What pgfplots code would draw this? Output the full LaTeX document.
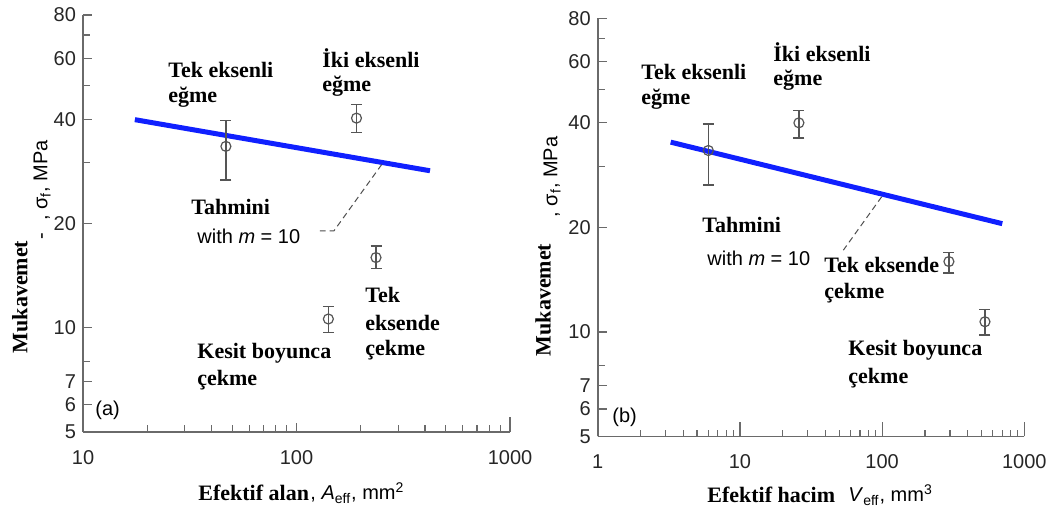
\documentclass[border=0pt]{standalone}
\usepackage{fontspec}
\setmainfont{Liberation Serif}
\setsansfont{Liberation Sans}
\usepackage{pgfplots}
\pgfplotsset{compat=1.18}
\definecolor{axgray}{HTML}{6A6A6A}
\definecolor{ptgray}{HTML}{555555}
\definecolor{lineblue}{HTML}{1020FF}
\newcommand\lab{\fontsize{11}{13}\selectfont\bfseries}
\newcommand\sflab{\sffamily\fontsize{10}{12}\selectfont}
\begin{document}
\begin{tikzpicture}
\path[use as bounding box] (0,0) rectangle (525pt,257pt);
% ---- (a)
\begin{axis}[xmode=log, ymode=log, scale only axis,
  ymin=5, ymax=80,
  axis x line*=bottom, axis y line*=left,
  axis line style={axgray, line width=0.8pt, -},
  tick style={axgray, line width=0.6pt},
  tick align=inside,
  major tick length=4.5pt, minor tick length=3.5pt,
  ytick={5,6,7,10,20,40,60,80},
  yticklabels={5,6,7,10,20,40,60,80},
  minor ytick={8,30,50,70},
  ticklabel style={font=\sflab, text=black!85},
  xticklabel style={yshift=-5.5pt},
  extra x ticks={1000}, extra x tick labels={},
  extra x tick style={major tick length=7.5pt},
  clip=false,
  at={(41.5pt,41pt)}, anchor=south west,
  width=213.5pt, height=208.5pt, xmin=10, xmax=1000,
  xtick={10,100,1000}, xticklabels={10,100,1000},
  minor xtick={20,30,40,50,60,70,80,90,200,300,400,500,600,700,800,900}]
\addplot[lineblue, line width=2.5pt] coordinates {(17.5,39.9) (422,28.4)};
\addplot[black!70, line width=0.5pt, dash pattern=on 3pt off 2pt] coordinates {(250.6,29.6) (149.8,19.05) (128.8,19.05)};
\addplot[only marks, mark=o, mark size=2.5pt, ptgray, mark options={line width=0.6pt},
  error bars/.cd, y dir=both, y explicit,
  error bar style={ptgray, line width=0.7pt},
  error mark options={ptgray, rotate=90, mark size=2.75pt, line width=0.7pt}] coordinates {
  (46.7,33.4) += (0,6.3) -= (0,6.7)
  (191,40.3) += (0,3.8) -= (0,3.7)
  (235.7,15.95) += (0,1.25) -= (0,1.15)
  (141,10.6) += (0,0.9) -= (0,0.9)
};
\end{axis}
% ---- (b)
\begin{axis}[xmode=log, ymode=log, scale only axis,
  ymin=5, ymax=80,
  axis x line*=bottom, axis y line*=left,
  axis line style={axgray, line width=0.8pt, -},
  tick style={axgray, line width=0.6pt},
  tick align=inside,
  major tick length=4.5pt, minor tick length=3.5pt,
  ytick={5,6,7,10,20,40,60,80},
  yticklabels={5,6,7,10,20,40,60,80},
  minor ytick={8,30,50,70},
  ticklabel style={font=\sflab, text=black!85},
  xticklabel style={yshift=-5.5pt},
  extra x ticks={10,100,1000}, extra x tick labels={},
  extra x tick style={major tick length=7.5pt},
  clip=false,
  at={(298.85pt,38.75pt)}, anchor=south west,
  width=213.3pt, height=209.1pt, xmin=1, xmax=1000,
  xtick={1,10,100,1000}, xticklabels={1,10,100,1000},
  minor xtick={2,3,4,5,6,7,8,9,20,30,40,50,60,70,80,90,200,300,400,500,600,700,800,900}]
\addplot[lineblue, line width=2.5pt] coordinates {(3.26,35.2) (700,20.5)};
\addplot[black!70, line width=0.5pt, dash pattern=on 3pt off 2pt] coordinates {(99.3,24.5) (53.4,17.2)};
\addplot[only marks, mark=o, mark size=2.5pt, ptgray, mark options={line width=0.6pt},
  error bars/.cd, y dir=both, y explicit,
  error bar style={ptgray, line width=0.7pt},
  error mark options={ptgray, rotate=90, mark size=2.75pt, line width=0.7pt}] coordinates {
  (6.0,33.3) += (0,6.4) -= (0,6.8)
  (26.0,40.0) += (0,3.4) -= (0,3.8)
  (295,15.95) += (0,0.95) -= (0,1.15)
  (529,10.7) += (0,0.9) -= (0,0.9)
};
\end{axis}
% ---- annotations (a)
\begin{scope}[every node/.style={anchor=west, inner sep=0pt}]
\node[font=\lab] at (84pt,222pt) {Tek eksenli};
\node[font=\lab] at (84pt,208.5pt) {eğme};
\node[font=\lab] at (161pt,228pt) {İki eksenli};
\node[font=\lab] at (161pt,214pt) {eğme};
\node[font=\lab] at (95.5pt,153.5pt) {Tahmini};
\node[font=\sflab] at (98.5pt,139pt) {with \textit{m} = 10};
\node[font=\lab] at (182.5pt,109.5pt) {Tek};
\node[font=\lab] at (182.5pt,95.5pt) {eksende};
\node[font=\lab] at (182.5pt,82pt) {çekme};
\node[font=\lab] at (98.5pt,80.5pt) {Kesit boyunca};
\node[font=\lab] at (98.5pt,67pt) {çekme};
\node[font=\sflab] at (47.5pt,52pt) {(a)};
\node[font=\lab] at (99pt,10.5pt) {Efektif alan};
\node[font=\sflab] at (155pt,10.5pt) {, \textit{A}\textsubscript{eff}, mm\textsuperscript{2}};
% ---- annotations (b)
\node[font=\lab] at (320.5pt,221pt) {Tek eksenli};
\node[font=\lab] at (320.5pt,207.5pt) {eğme};
\node[font=\lab] at (386.5pt,231pt) {İki eksenli};
\node[font=\lab] at (386.5pt,217pt) {eğme};
\node[font=\lab] at (351pt,144.5pt) {Tahmini};
\node[font=\sflab] at (353.5pt,128pt) {with \textit{m} = 10};
\node[font=\lab] at (412pt,124.5pt) {Tek eksende};
\node[font=\lab] at (412pt,110.5pt) {çekme};
\node[font=\lab] at (424pt,82pt) {Kesit boyunca};
\node[font=\lab] at (424pt,68pt) {çekme};
\node[font=\sflab] at (306pt,48.5pt) {(b)};
\node[font=\lab] at (353.5pt,9.5pt) {Efektif hacim};
\node[font=\sflab] at (424pt,9.5pt) {\textit{V}\textsubscript{eff}, mm\textsuperscript{3}};
\end{scope}
% ---- y labels
\node[font=\lab, rotate=90, anchor=center, inner sep=0pt] at (10pt,108.5pt) {Mukavemet};
\node[font=\sflab, rotate=90, anchor=center, inner sep=0pt] at (21pt,162pt) {-\hspace{6pt}, σ\textsubscript{f}, MPa};
\node[font=\lab, rotate=90, anchor=center, inner sep=0pt] at (271.5pt,107pt) {Mukavemet};
\node[font=\sflab, rotate=90, anchor=center, inner sep=0pt] at (276pt,168.5pt) {, σ\textsubscript{f}, MPa};
\end{tikzpicture}
\end{document}
